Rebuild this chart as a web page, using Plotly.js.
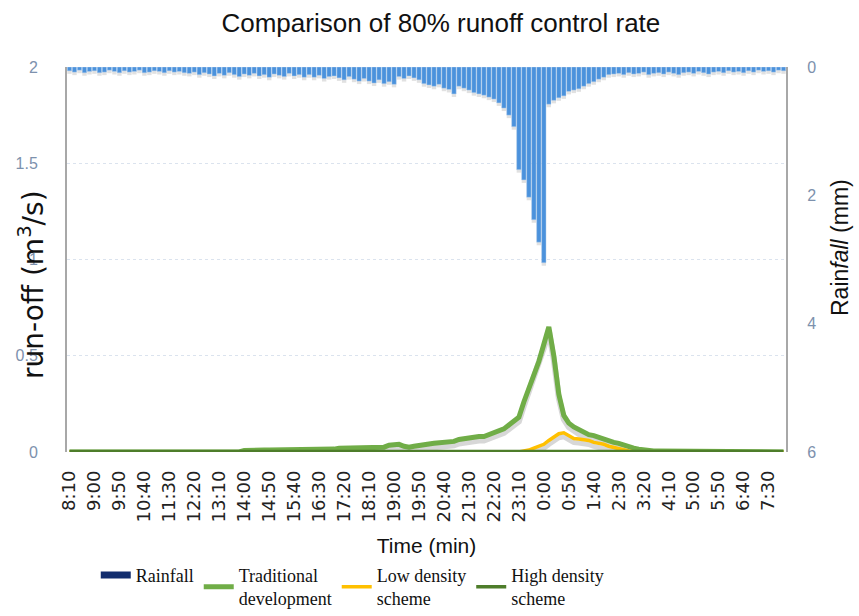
<!DOCTYPE html>
<html>
<head>
<meta charset="utf-8">
<script src="https://cdn.plot.ly/plotly-3.0.1.min.js"></script>
<style>html,body{margin:0;padding:0;background:#fff;}#chart{width:859px;height:616px;}</style>
</head>
<body>
<div id="chart"></div>
<script>
// Time categories: 10-minute steps starting at 8:10
const startMinutes = 8 * 60 + 10;
const stepMinutes = 10;
const nPoints = 144;
const categories = [];
for (let i = 0; i < nPoints; i++) {
  const m = (startMinutes + i * stepMinutes) % (24 * 60);
  const h = Math.floor(m / 60), mm = m % 60;
  categories.push(h + ':' + (mm < 10 ? '0' : '') + mm);
}

const tickLabels = ['8:10','9:00','9:50','10:40','11:30','12:20','13:10','14:00','14:50','15:40',
  '16:30','17:20','18:10','19:00','19:50','20:40','21:30','22:20','23:10','0:00',
  '0:50','1:40','2:30','3:20','4:10','5:00','5:50','6:40','7:30'];

// Rainfall (mm), right axis (reversed)
const rainfall = [
  0.06,0.08,0.05,0.09,0.07,0.06,0.09,0.08,0.05,0.07,0.09,0.06,0.08,0.07,0.05,0.09,0.08,0.06,0.07,0.09,0.06,0.08,0.07,0.09,
  0.10,0.08,0.12,0.09,0.11,0.14,0.10,0.13,0.09,0.12,0.15,0.11,0.13,0.10,0.14,0.12,0.16,0.11,0.13,0.15,0.10,0.14,0.12,0.16,
  0.12,0.16,0.13,0.18,0.15,0.14,0.17,0.20,0.15,0.19,0.22,0.18,0.22,0.25,0.20,0.26,0.23,0.27,
  0.15,0.18,0.14,0.17,0.20,
  0.26,0.28,0.30,0.27,0.33,0.35,
  0.42,
  0.30,0.33,0.36,0.40,0.42,0.44,0.47,0.50,
  0.56,0.64,0.75,0.93,1.60,1.76,2.03,2.38,2.73,3.05,
  0.58,0.52,0.48,0.45,0.38,0.36,0.34,0.30,0.26,0.23,0.19,0.16,0.12,
  0.11,0.10,0.12,0.09,0.11,0.10,0.08,0.12,0.10,0.09,0.11,0.08,0.10,0.12,0.09,0.08,0.10,0.07,
  0.09,0.11,0.08,0.07,0.09,0.06,0.08,0.07,0.09,0.06,0.08,0.05,0.07,0.06,0.08,0.05,0.06
];

// Run-off (m3/s), left axis
const traditional = [
  0,0,0,0,0,0,0,0,0,0, 0,0,0,0,0,0,0,0,0,0, 0,0,0,0,0,0,0,0,0,0, 0,0,0,0,0,
  0.008,0.01,0.01,0.01,0.01,0.01,0.01,0.01,0.012,0.012,0.012,0.012,
  0.015,0.015,0.015,0.015,0.015,0.015,0.015,
  0.02,0.02,0.02,0.02,0.022,0.022,0.022,0.025,0.025,0.025,
  0.035,0.04,0.04,0.03,0.025,0.03,
  0.036,0.04,0.042,0.045,0.048,0.05,0.05,0.055,
  0.065,0.07,0.075,0.078,0.08,
  0.08,0.09,0.1,0.11,0.12,0.14,0.16,0.18,0.26,0.33,0.4,0.47,0.56,0.65,0.5,0.3,0.19,0.15,0.13,0.115,
  0.1,0.09,0.085,0.075,0.07,0.06,0.05,0.045,0.035,0.03,0.02,0.015,0.01,
  0.005,0.005,0.005,0.005,0.005,
  0,0,0,0,0,0,0,0,0,0, 0,0,0,0,0,0,0,0,0,0, 0,0,0
];

const lowDensity = [
  0,0,0,0,0,0,0,0,0,0, 0,0,0,0,0,0,0,0,0,0, 0,0,0,0,0,0,0,0,0,0,
  0,0,0,0,0,0,0,0,0,0, 0,0,0,0,0,0,0,0,0,0, 0,0,0,0,0,0,0,0,0,0,
  0,0,0,0,0,0,0,0,0,0, 0,0,0,0,0,0,0,0,0,0, 0,0,0,0,0,0,0,0,0,0, 0,
  0.005,0.01,0.02,0.03,0.04,0.06,0.08,0.095,0.1,0.085,0.07,0.068,0.065,0.06,0.05,0.045,0.04,0.03,0.025,0.02,0.012,0.005,
  0,0,0,0,0,0,0,0,0,0, 0,0,0,0,0,0,0,0,0,0, 0,0,0,0,0,0,0,0,0,0, 0
];

const highDensity = [
  0.003,0.003,0.003,0.003,0.003,0.003,0.003,0.003,0.003,0.003,0.003,0.003,0.003,0.003,0.003,0.003,0.003,0.003,0.003,0.003,
  0.003,0.003,0.003,0.003,0.003,0.003,0.003,0.003,0.003,0.003,0.003,0.003,0.003,0.003,0.003,0.003,0.003,0.003,0.003,0.003,
  0.003,0.003,0.003,0.003,0.003,0.003,0.003,0.003,0.003,0.003,0.003,0.003,0.003,0.003,0.003,0.003,0.003,0.003,0.003,0.003,
  0.003,0.003,0.003,0.003,0.003,0.003,0.003,0.003,0.003,0.003,0.003,0.003,0.003,0.003,0.003,0.003,0.003,0.003,0.003,0.003,
  0.003,0.003,0.003,0.003,0.003,0.003,0.003,0.003,0.003,0.003,0.003,0.003,0.003,0.003,0.003,0.003,0.003,0.003,0.003,0.003,
  0.003,0.003,0.003,0.003,0.003,0.003,0.003,0.003,0.003,0.003,0.003,0.003,0.003,0.003,0.003,0.003,0.003,0.003,0.003,0.003,
  0.003,0.003,0.003,0.003,0.003,0.003,0.003,0.003,0.003,0.003,0.003,0.003,0.003,0.003,0.003,0.003,0.003,0.003,0.003,0.003,
  0.003,0.003,0.003,0.003
];

const runoffTicks = [0, 0.5, 1, 1.5, 2];
const runoffTickText = ['0', '0.5', '1', '1.5', '2'];
const rainTicks = [0, 2, 4, 6];
const rainTickText = ['0', '2', '4', '6'];

const tickVals = tickLabels.map(function (t) { return t; });

const plotH = 385;
const shadowBar = 3 * 6 / plotH;   // ~3px shift in rainfall units
const shadowLine = 4 * 2 / plotH;  // ~4px shift in run-off units

const colTrad = '#70ad47', colLow = '#ffc000', colHigh = '#4e7d2a';
const shadowCol = 'rgba(110,110,110,0.28)';

const data = [
  {type:'bar', x:categories, y:rainfall, yaxis:'y', marker:{color:'rgba(120,120,120,0.22)'}, showlegend:false, hoverinfo:'skip'},
  {type:'bar', name:'Rainfall', x:categories, y:rainfall, yaxis:'y2', marker:{color:'#4b92dc', line:{color:'rgba(190,215,240,0.7)', width:0.6}}, showlegend:false},
  {type:'scatter', mode:'lines', x:categories, y:traditional, yaxis:'y3', line:{color:shadowCol, width:6}, showlegend:false, hoverinfo:'skip'},
  {type:'scatter', mode:'lines', x:categories, y:lowDensity, yaxis:'y3', line:{color:shadowCol, width:5}, showlegend:false, hoverinfo:'skip'},
  {type:'scatter', mode:'lines', name:'Traditional<br>development', x:categories, y:traditional, yaxis:'y4', line:{color:colTrad, width:5}, legendrank:2},
  {type:'scatter', mode:'lines', name:'Low density<br>scheme', x:categories, y:lowDensity, yaxis:'y4', line:{color:colLow, width:3.5}, legendrank:3},
  {type:'scatter', mode:'lines', name:'High density<br>scheme', x:categories, y:highDensity, yaxis:'y4', line:{color:colHigh, width:3.5}, legendrank:4},
  {type:'scatter', mode:'lines', name:'Rainfall', x:[null], y:[null], yaxis:'y4', line:{color:'#122d6e', width:7}, legendrank:1, hoverinfo:'skip'}
];

const tickFontY = {family:'Liberation Sans, Arial, sans-serif', size:16, color:'#7d91ad'};

const layout = {
  width:859, height:616,
  margin:{l:67, r:73, t:67, b:164, autoexpand:false},
  paper_bgcolor:'#ffffff', plot_bgcolor:'rgba(0,0,0,0)',
  bargap:0.12,
  title:{text:'Comparison of 80% runoff control rate', font:{family:'Liberation Sans, Arial, sans-serif', size:26, color:'#111'},
         x:0.52, xref:'paper', xanchor:'center', y:1 - 23/616, yref:'container', yanchor:'middle'},
  xaxis:{type:'category', categoryorder:'array', categoryarray:categories, range:[-0.5, 143.5],
         tickmode:'array', tickvals:tickVals, ticktext:tickLabels, tickangle:-90,
         tickfont:{family:'DejaVu Sans, sans-serif', size:18, color:'#222'},
         ticks:'', showgrid:false, showline:false, zeroline:false, ticklabelstandoff:14, automargin:false,
         title:{text:'Time (min)', font:{family:'Liberation Sans, Arial, sans-serif', size:21, color:'#111'}, standoff:16}},
  yaxis:{range:[6 - shadowBar, -shadowBar], visible:false, showgrid:false, zeroline:false},
  yaxis2:{overlaying:'y', side:'right', range:[6, 0], tickmode:'array', tickvals:rainTicks, ticktext:rainTickText,
          tickfont:tickFontY, ticks:'', showgrid:false, zeroline:false, showline:true, linecolor:'#a8a8a8', linewidth:2,
          ticklabelstandoff:16, automargin:false},
  yaxis3:{overlaying:'y', range:[shadowLine, 2 + shadowLine], visible:false, showgrid:false, zeroline:false},
  yaxis4:{overlaying:'y', side:'left', range:[0, 2], tickmode:'array', tickvals:runoffTicks, ticktext:runoffTickText,
          tickfont:tickFontY, ticks:'', showgrid:true, gridcolor:'#dbe3ee', griddash:'dot', gridwidth:1,
          zeroline:false, showline:true, linecolor:'#a8a8a8', linewidth:2, ticklabelstandoff:24, automargin:false},
  showlegend:true,
  legend:{orientation:'h', x:0.04, xanchor:'left', y:-0.35, yanchor:'middle', valign:'middle',
          font:{family:'Liberation Serif, Times New Roman, serif', size:18, color:'#111'},
          bgcolor:'rgba(0,0,0,0)', itemwidth:30, traceorder:'normal'},
  annotations:[
    {text:'run-off (m<sup>3</sup>/s)', xref:'paper', yref:'paper', x:(31 - 67) / 719, y:(452 - 285) / 385,
     xanchor:'center', yanchor:'middle', textangle:-90, showarrow:false,
     font:{family:'DejaVu Sans, sans-serif', size:28, color:'#111'}},
    {text:'Rain<i>fall</i> (mm)', xref:'paper', yref:'paper', x:(840 - 67) / 719, y:(452 - 248) / 385,
     xanchor:'center', yanchor:'middle', textangle:-90, showarrow:false,
     font:{family:'Liberation Sans, Arial, sans-serif', size:23, color:'#111'}}
  ]
};

Plotly.newPlot('chart', data, layout, {displayModeBar:false, staticPlot:true});
</script>
</body>
</html>
